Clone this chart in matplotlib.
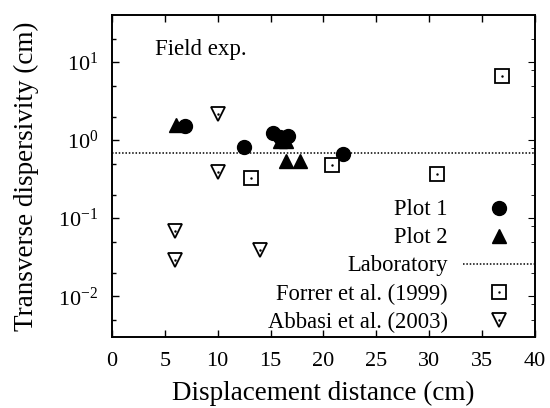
import numpy as np
import matplotlib
matplotlib.use('Agg')
from matplotlib import pyplot as plt
from matplotlib.ticker import FixedLocator, NullFormatter, FixedFormatter
from matplotlib.legend_handler import HandlerTuple

plt.rcParams['font.family'] = ['Liberation Serif', 'DejaVu Serif']
plt.rcParams['mathtext.fontset'] = 'custom'
plt.rcParams['mathtext.rm'] = 'Liberation Serif'
plt.rcParams['mathtext.it'] = 'Liberation Serif:italic'

# data
plot1_x = [6.9, 12.5, 15.2, 15.9, 16.6, 21.8]
plot1_y = [1.51, 0.82, 1.25, 1.1, 1.13, 0.67]
plot2_x = [6.1, 15.9, 16.5, 16.5, 17.8]
plot2_y = [1.54, 0.97, 0.97, 0.54, 0.54]
lab_value = 0.69
forrer_x = [13.1, 20.8, 30.7, 36.9]
forrer_y = [0.33, 0.48, 0.37, 6.6]
abbasi_x = [10.0, 10.0, 6.0, 6.0, 14.0]
abbasi_y = [2.18, 0.39, 0.068, 0.029, 0.039]

xticks = [0, 5, 10, 15, 20, 25, 30, 35, 40]
yticks = [1e-2, 1e-1, 1e0, 1e1]
ytick_labels = ['$10^{-2}$', '$10^{-1}$', '$10^{0}$', '$10^{1}$']

fig = plt.figure(figsize=(5.5, 4.08), dpi=100)
ax = fig.add_axes([0.2036, 0.174, 0.7691, 0.789])

ms = 10
h1, = ax.plot(plot1_x, plot1_y, 'o', color='black', ms=ms, ls='none')
h2, = ax.plot(plot2_x, plot2_y, '^', color='black', ms=ms, ls='none')
h3 = ax.axhline(lab_value, color='black', lw=1.1, ls=(0, (1, 1.2)))
h4a, = ax.plot(forrer_x, forrer_y, 's', mfc='white', mec='black', mew=1.3, ms=ms, ls='none')
h4b, = ax.plot(forrer_x, forrer_y, '.', color='black', ms=1.5, ls='none')
h5a, = ax.plot(abbasi_x, abbasi_y, 'v', mfc='white', mec='black', mew=1.3, ms=ms, ls='none')
h5b, = ax.plot(abbasi_x, abbasi_y, '.', color='black', ms=1.5, ls='none')

ax.set_yscale('log')
ax.set_xlim(0, 40)
ax.set_ylim(0.003, 40)

ax.xaxis.set_major_locator(FixedLocator(xticks))
ax.set_xticklabels([str(t) for t in xticks])
ax.yaxis.set_major_locator(FixedLocator(yticks))
ax.yaxis.set_major_formatter(FixedFormatter(ytick_labels))
minor_left = [m * 10.0 ** k for k in range(-3, 2) for m in (2, 5)]
ax.yaxis.set_minor_locator(FixedLocator(minor_left))
ax.yaxis.set_minor_formatter(NullFormatter())
ax.tick_params(axis='both', which='both', direction='in', top=True, right=False,
               labelsize=16, width=1)
ax.tick_params(axis='both', which='major', length=5)
ax.tick_params(axis='x', which='major', pad=11)
ax.tick_params(axis='y', which='major', pad=10)
ax.tick_params(axis='y', which='minor', length=3)

# right axis carries one more minor tick per decade
ax2 = ax.twinx()
ax2.set_yscale('log')
ax2.set_ylim(ax.get_ylim())
ax2.yaxis.set_major_locator(FixedLocator(yticks))
ax2.yaxis.set_minor_locator(FixedLocator([m * 10.0 ** k for k in range(-3, 2) for m in (2, 5, 8)]))
ax2.yaxis.set_major_formatter(NullFormatter())
ax2.yaxis.set_minor_formatter(NullFormatter())
ax2.tick_params(axis='y', which='both', direction='in')
ax2.tick_params(axis='y', which='major', length=5)
ax2.tick_params(axis='y', which='minor', length=3)

for a in (ax, ax2):
    for s in a.spines.values():
        s.set_linewidth(1.2)

ax.set_xlabel('Displacement distance (cm)', fontsize=19.5, labelpad=7)
ax.set_ylabel('Transverse dispersivity (cm)', fontsize=19.5, labelpad=14)
ax.text(0.102, 0.894, 'Field exp.', transform=ax.transAxes, fontsize=16.5,
        ha='left', va='center')

leg = ax.legend([h1, h2, h3, (h4a, h4b), (h5a, h5b)],
                ['Plot 1', 'Plot 2', 'Laboratory', 'Forrer et al. (1999)', 'Abbasi et al. (2003)'],
                handler_map={tuple: HandlerTuple(ndivide=1, pad=0)},
                loc='lower right', markerfirst=False, frameon=False, fontsize=16.3,
                borderaxespad=0, borderpad=0, handlelength=3.2, handletextpad=0.66,
                labelspacing=0.31, bbox_to_anchor=(1.0, 0.013))

fig.savefig('out.png', dpi=100)
